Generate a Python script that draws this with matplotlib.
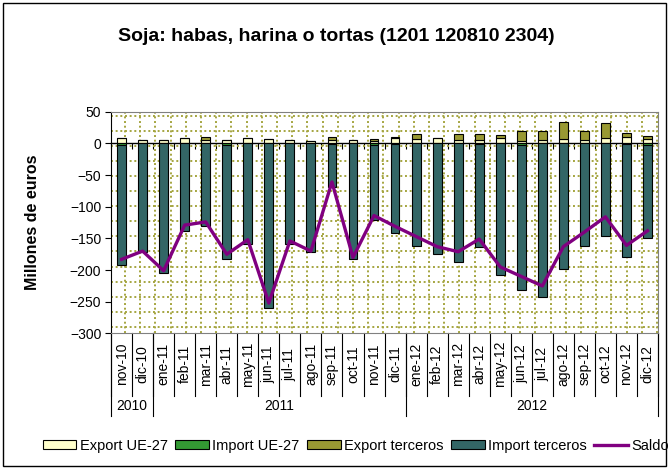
"""Soja: habas, harina o tortas (1201 120810 2304) - monthly trade, nov-10 to dic-12.

    python3 plot.py   ->  out.png
"""
import matplotlib
matplotlib.use("Agg")
import matplotlib.pyplot as plt
import numpy as np
from matplotlib.patches import Rectangle
from matplotlib.transforms import blended_transform_factory

# values (millones de euros)
MONTHS = ["nov-10", "dic-10", "ene-11", "feb-11", "mar-11", "abr-11", "may-11",
          "jun-11", "jul-11", "ago-11", "sep-11", "oct-11", "nov-11", "dic-11",
          "ene-12", "feb-12", "mar-12", "abr-12", "may-12", "jun-12", "jul-12",
          "ago-12", "sep-12", "oct-12", "nov-12", "dic-12"]
EXPORT_UE = [8, 5, 5, 8, 5, 6, 8, 7, 6, 3, 5, 6, 4, 8,
             7, 8, 6, 5, 8, 3, 5, 7, 6, 8, 10, 7]
EXPORT_TER = [0, 0, 0, 0, 4.5, 0, 0, 0, 0, 0, 4.5, 0, 3.5, 2,
              7, 0, 9, 9, 5, 17, 14, 27, 14, 24, 6, 5]
IMPORT_UE = [-2, 0, 0, 0, 0, -2, 0, 0, 0, 0, -1.5, 0, -2, -1,
             0, 0, 0, -1.5, 0, -2, 0, 0, 0, 0, -1, -3]
IMPORT_TER = [-190, -172, -204, -138, -131, -180, -159, -259, -159, -172, -68, -182, -119, -141,
              -162, -174, -188, -162, -208, -230, -242, -198, -162, -146, -178, -147]
SALDO = [-183, -170, -201, -129, -124, -175, -152, -252, -154, -170, -61, -180, -114, -131,
         -147, -163, -171, -151, -195, -210, -225, -163, -140, -116, -161, -138]

TITLE = "Soja: habas, harina o tortas (1201 120810 2304)"

C_EXP_UE, C_IMP_UE = "#FFFFCC", "#339933"
C_EXP_TER, C_IMP_TER = "#999933", "#336666"
C_SALDO, C_GRID = "#800080", "#A5A540"

plt.rcParams.update({
    "font.family": ["Liberation Sans", "DejaVu Sans"],
    "font.size": 10,
})

fig = plt.figure(figsize=(6.69, 4.68), dpi=100)
ax = fig.add_axes([0.166, 0.2874, 0.8176, 0.4741])

x = np.arange(len(MONTHS))
kw = dict(width=0.42, edgecolor="black", linewidth=0.8, zorder=3)
h_eu = ax.bar(x, EXPORT_UE, color=C_EXP_UE, **kw)
h_iu = ax.bar(x, IMPORT_UE, color=C_IMP_UE, **kw)
h_et = ax.bar(x, EXPORT_TER, bottom=EXPORT_UE, color=C_EXP_TER, **kw)
h_it = ax.bar(x, IMPORT_TER, bottom=IMPORT_UE, color=C_IMP_TER, **kw)
h_s, = ax.plot(x, SALDO, color=C_SALDO, lw=2.4, zorder=4)

ax.set_xlim(-0.5, len(MONTHS) - 0.5)
ax.set_ylim(-300, 50)
ax.set_yticks(np.arange(-300, 51, 50))
ax.set_xticks([])
ax.tick_params(axis="y", direction="out", length=4, width=0.8, pad=3)
for side in ("top", "right", "bottom"):
    ax.spines[side].set_color("#808080")
ax.spines["left"].set_color("black")

# Excel "dotted grid" pattern fill of the plot area (not tied to data values)
dot = dict(color=C_GRID, lw=1.4, ls=(0, (1, 1.4)), transform=ax.transAxes, zorder=1)
for fy in 1 - (4.0 + 15.1 * np.arange(15)) / 222:
    ax.plot([0, 1], [fy, fy], **dot)
for fx in (14.0 + 15.2 * np.arange(36)) / 547:
    if fx < 1:
        ax.plot([fx, fx], [0, 1], **dot)

# category axis sitting at y = 0, ticks on the month boundaries
y0, y1 = ax.get_ylim()
zero = ax.secondary_xaxis((0 - y0) / (y1 - y0))
zero.set_xticks(np.arange(-0.5, len(MONTHS)))
zero.tick_params(direction="in", length=4, width=0.8, labeltop=False, labelbottom=False)
zero.spines["top"].set_linewidth(1.0)

# two-level category labels: months, then years
tr = blended_transform_factory(ax.transData, ax.transAxes)
line = dict(color="black", lw=0.8, transform=tr, clip_on=False)
for b in np.arange(-0.5, len(MONTHS)):
    ax.plot([b, b], [0, -0.28], **line)
for i, m in enumerate(MONTHS):
    ax.text(i, -0.138, m, rotation=90, ha="center", va="center", transform=tr)

years = ["20" + m[-2:] for m in MONTHS]
starts = [i for i in range(len(years)) if i == 0 or years[i] != years[i - 1]]
ends = starts[1:] + [len(years)]
for s, e in zip(starts, ends):
    ax.plot([s - 0.5, s - 0.5], [0, -0.37], **line)
    ax.text((s + e - 1) / 2, -0.325, years[s], ha="center", va="center", transform=tr)
ax.plot([len(years) - 0.5] * 2, [0, -0.37], **line)

fig.text(0.502, 0.923, TITLE, ha="center", va="center", fontsize=14, fontweight="bold")
fig.text(0.049, 0.5246, "Millones de euros", rotation=90, ha="center", va="center",
         fontsize=11.5, fontweight="bold")

fig.legend([h_eu, h_iu, h_et, h_it, h_s],
           ["Export UE-27", "Import UE-27", "Export terceros", "Import terceros", "Saldo"],
           loc="center", bbox_to_anchor=(0.532, 0.047), ncol=5, frameon=False,
           fontsize=10.5, handlelength=2.3, handleheight=0.6, handletextpad=0.25,
           columnspacing=0.5, borderaxespad=0)

fig.add_artist(Rectangle((0.004, 0.004), 0.992, 0.99, transform=fig.transFigure,
                         fill=False, edgecolor="black", lw=1.0))

fig.savefig("out.png", dpi=100)
